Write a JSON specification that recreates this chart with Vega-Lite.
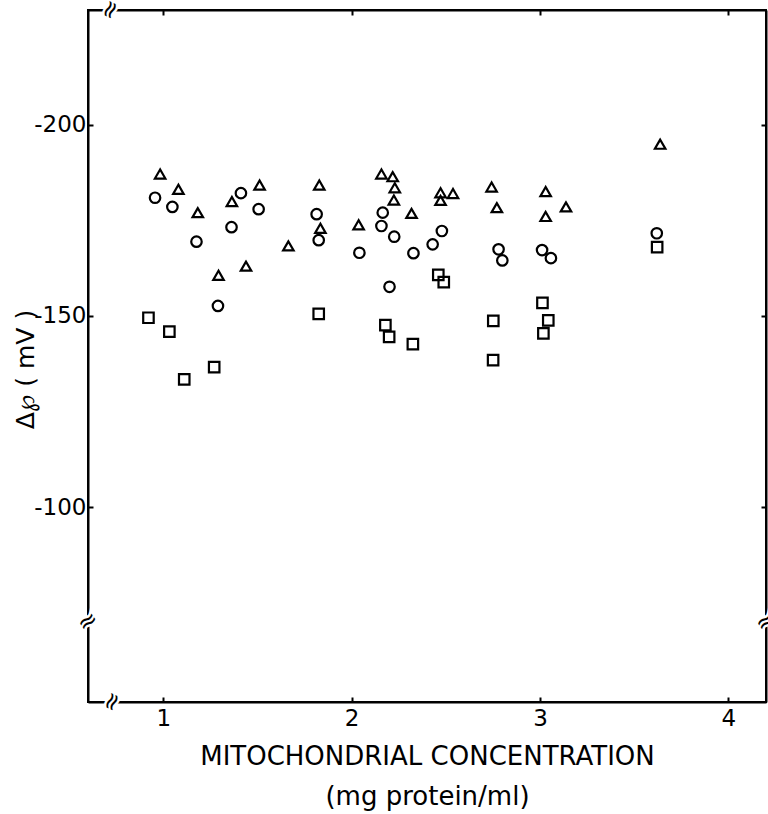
{
  "$schema": "https://vega.github.io/schema/vega-lite/v6.json",
  "width": 678,
  "height": 692,
  "autosize": {"type": "none"},
  "padding": {"left": 88, "top": 10, "right": 2, "bottom": 112},
  "background": "white",
  "config": {
    "font": "DejaVu Sans",
    "view": {"stroke": "black", "strokeWidth": 2},
    "axis": {
      "domainColor": "black",
      "domainWidth": 2,
      "tickColor": "black",
      "tickWidth": 2,
      "tickSize": -5,
      "grid": false,
      "labelColor": "black",
      "titleColor": "black",
      "labelFont": "DejaVu Sans",
      "titleFont": "DejaVu Sans",
      "labelFontSize": 23,
      "titleFontWeight": "normal"
    }
  },
  "datasets": {
    "points": [
      {"conc": 0.983, "dpsi": -187.1, "group": "A"},
      {"conc": 1.080, "dpsi": -183.1, "group": "A"},
      {"conc": 1.183, "dpsi": -177.0, "group": "A"},
      {"conc": 1.364, "dpsi": -179.9, "group": "A"},
      {"conc": 1.511, "dpsi": -184.2, "group": "A"},
      {"conc": 1.664, "dpsi": -168.3, "group": "A"},
      {"conc": 1.439, "dpsi": -163.0, "group": "A"},
      {"conc": 1.293, "dpsi": -160.6, "group": "A"},
      {"conc": 1.828, "dpsi": -184.2, "group": "A"},
      {"conc": 1.834, "dpsi": -172.9, "group": "A"},
      {"conc": 2.037, "dpsi": -173.8, "group": "A"},
      {"conc": 2.158, "dpsi": -187.1, "group": "A"},
      {"conc": 2.218, "dpsi": -186.4, "group": "A"},
      {"conc": 2.229, "dpsi": -183.5, "group": "A"},
      {"conc": 2.224, "dpsi": -180.3, "group": "A"},
      {"conc": 2.318, "dpsi": -176.8, "group": "A"},
      {"conc": 2.472, "dpsi": -182.2, "group": "A"},
      {"conc": 2.472, "dpsi": -180.2, "group": "A"},
      {"conc": 2.538, "dpsi": -182.0, "group": "A"},
      {"conc": 2.743, "dpsi": -183.7, "group": "A"},
      {"conc": 2.771, "dpsi": -178.3, "group": "A"},
      {"conc": 3.030, "dpsi": -182.5, "group": "A"},
      {"conc": 3.030, "dpsi": -176.0, "group": "A"},
      {"conc": 3.138, "dpsi": -178.5, "group": "A"},
      {"conc": 3.638, "dpsi": -194.9, "group": "A"},
      {"conc": 0.956, "dpsi": -180.9, "group": "B"},
      {"conc": 1.048, "dpsi": -178.5, "group": "B"},
      {"conc": 1.412, "dpsi": -182.1, "group": "B"},
      {"conc": 1.506, "dpsi": -177.9, "group": "B"},
      {"conc": 1.362, "dpsi": -173.2, "group": "B"},
      {"conc": 1.176, "dpsi": -169.4, "group": "B"},
      {"conc": 1.290, "dpsi": -152.6, "group": "B"},
      {"conc": 1.814, "dpsi": -176.6, "group": "B"},
      {"conc": 1.825, "dpsi": -169.8, "group": "B"},
      {"conc": 2.041, "dpsi": -166.5, "group": "B"},
      {"conc": 2.165, "dpsi": -177.0, "group": "B"},
      {"conc": 2.158, "dpsi": -173.5, "group": "B"},
      {"conc": 2.226, "dpsi": -170.7, "group": "B"},
      {"conc": 2.328, "dpsi": -166.4, "group": "B"},
      {"conc": 2.430, "dpsi": -168.7, "group": "B"},
      {"conc": 2.479, "dpsi": -172.2, "group": "B"},
      {"conc": 2.201, "dpsi": -157.6, "group": "B"},
      {"conc": 2.780, "dpsi": -167.4, "group": "B"},
      {"conc": 2.800, "dpsi": -164.5, "group": "B"},
      {"conc": 3.011, "dpsi": -167.2, "group": "B"},
      {"conc": 3.058, "dpsi": -165.1, "group": "B"},
      {"conc": 3.620, "dpsi": -171.6, "group": "B"},
      {"conc": 0.921, "dpsi": -149.5, "group": "C"},
      {"conc": 1.032, "dpsi": -145.9, "group": "C"},
      {"conc": 1.270, "dpsi": -136.6, "group": "C"},
      {"conc": 1.111, "dpsi": -133.4, "group": "C"},
      {"conc": 1.825, "dpsi": -150.5, "group": "C"},
      {"conc": 2.179, "dpsi": -147.6, "group": "C"},
      {"conc": 2.199, "dpsi": -144.5, "group": "C"},
      {"conc": 2.325, "dpsi": -142.6, "group": "C"},
      {"conc": 2.460, "dpsi": -160.7, "group": "C"},
      {"conc": 2.489, "dpsi": -158.8, "group": "C"},
      {"conc": 2.752, "dpsi": -148.7, "group": "C"},
      {"conc": 2.751, "dpsi": -138.4, "group": "C"},
      {"conc": 3.013, "dpsi": -153.4, "group": "C"},
      {"conc": 3.044, "dpsi": -148.8, "group": "C"},
      {"conc": 3.018, "dpsi": -145.4, "group": "C"},
      {"conc": 3.622, "dpsi": -168.0, "group": "C"}
    ],
    "breaks": [
      {"conc": 0.72, "dpsi": -230, "along": "x"},
      {"conc": 0.73, "dpsi": -49, "along": "x"},
      {"conc": 0.6, "dpsi": -70, "along": "y"},
      {"conc": 4.2, "dpsi": -70, "along": "y"}
    ]
  },
  "layer": [
    {
      "data": {"name": "points"},
      "mark": {"type": "point", "filled": false, "strokeWidth": 2.2, "color": "black", "opacity": 1, "size": 110},
      "encoding": {
        "x": {
          "field": "conc", "type": "quantitative",
          "scale": {"domain": [0.6, 4.2], "nice": false, "zero": false},
          "axis": {
            "orient": "bottom", "values": [1, 2, 3, 4], "labelPadding": 10,
            "title": ["MITOCHONDRIAL  CONCENTRATION", "(mg protein/ml)"],
            "titleFontSize": 26, "titleLineHeight": 40, "titlePadding": 13
          }
        },
        "y": {
          "field": "dpsi", "type": "quantitative",
          "scale": {"domain": [-230, -49], "nice": false, "zero": false, "reverse": true},
          "axis": {
            "orient": "left", "values": [-200, -150, -100], "labelPadding": 7,
            "labelExpr": "'-' + abs(datum.value)",
            "title": "Δ℘ ( mV )", "titleFontSize": 25, "titleAngle": -90,
            "titleX": -55, "titleY": 359, "titleAlign": "center", "titleBaseline": "alphabetic"
          }
        },
        "shape": {
          "field": "group", "type": "nominal",
          "scale": {"domain": ["A", "B", "C"], "range": ["triangle-up", "circle", "square"]},
          "legend": null
        }
      }
    },
    {
      "data": {"name": "breaks"},
      "transform": [{"filter": "datum.along === 'x'"}],
      "mark": {"type": "text", "text": "≈", "fontSize": 24, "angle": -65, "color": "white", "stroke": "white", "strokeWidth": 5, "align": "center", "baseline": "middle"},
      "encoding": {
        "x": {"field": "conc", "type": "quantitative", "axis": {"orient": "top", "values": [1, 2, 3, 4], "labels": false, "title": null}},
        "y": {"field": "dpsi", "type": "quantitative", "axis": {"orient": "right", "values": [-200, -150, -100], "labels": false, "title": null}}
      }
    },
    {
      "data": {"name": "breaks"},
      "transform": [{"filter": "datum.along === 'x'"}],
      "mark": {"type": "text", "text": "≈", "fontSize": 24, "angle": -65, "color": "black", "align": "center", "baseline": "middle"},
      "encoding": {
        "x": {"field": "conc", "type": "quantitative", "axis": null},
        "y": {"field": "dpsi", "type": "quantitative", "axis": null}
      }
    },
    {
      "data": {"name": "breaks"},
      "transform": [{"filter": "datum.along === 'y'"}],
      "mark": {"type": "text", "text": "≈", "fontSize": 24, "angle": -35, "color": "white", "stroke": "white", "strokeWidth": 5, "align": "center", "baseline": "middle"},
      "encoding": {
        "x": {"field": "conc", "type": "quantitative", "axis": null},
        "y": {"field": "dpsi", "type": "quantitative", "axis": null}
      }
    },
    {
      "data": {"name": "breaks"},
      "transform": [{"filter": "datum.along === 'y'"}],
      "mark": {"type": "text", "text": "≈", "fontSize": 24, "angle": -35, "color": "black", "align": "center", "baseline": "middle"},
      "encoding": {
        "x": {"field": "conc", "type": "quantitative", "axis": null},
        "y": {"field": "dpsi", "type": "quantitative", "axis": null}
      }
    }
  ],
  "resolve": {"axis": {"x": "independent", "y": "independent"}}
}
